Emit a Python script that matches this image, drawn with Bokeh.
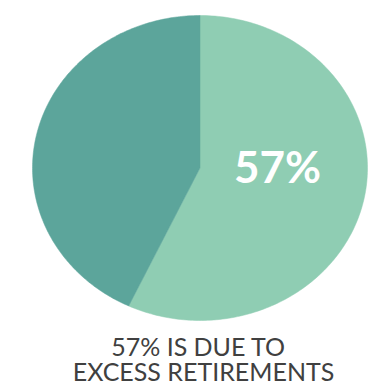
import numpy as np
from bokeh.plotting import figure
from bokeh.models import ColumnDataSource, Range1d
from bokeh.core.properties import value
from bokeh.embed import file_html
from bokeh.resources import INLINE

# ---- data ----
labels = ["Excess retirements", "Other"]
shares = [57, 43]
colors = ["#8FCDB3", "#5CA59B"]
big_label = ["57%"]
caption = ["57% IS DUE TO", "EXCESS RETIREMENTS"]

# ---- layout (picture pixels) ----
W, H = 381, 384
OX, OY = 0, 0              # where the figure lands in the picture
CX, CY = 199.5, 167.5      # pie centre in the picture
RX, RY = 167.5, 152.5      # pie radii (slightly squashed)

def dx(px):
    return (px - CX) / RX

def dy(py):
    return (CY - py) / RY

p = figure(width=W, height=H, output_backend="svg", toolbar_location=None,
           x_range=Range1d(dx(OX), dx(OX + W)), y_range=Range1d(dy(OY + H), dy(OY)),
           min_border=0, outline_line_color=None, background_fill_color="white")
p.axis.visible = False
p.grid.visible = False

# pie slices, clockwise from 12 o'clock
total = float(sum(shares))
ends = np.cumsum(shares) / total * 2 * np.pi
starts = np.concatenate([[0.0], ends[:-1]])
xs, ys = [], []
for a0, a1 in zip(starts, ends):
    t = np.linspace(a0, a1, 200)
    xs.append(np.concatenate([[0.0], np.sin(t), [0.0]]))
    ys.append(np.concatenate([[0.0], np.cos(t), [0.0]]))
src = ColumnDataSource(dict(xs=xs, ys=ys, color=colors, label=labels))
p.patches("xs", "ys", source=src, fill_color="color", line_color="color", line_width=0.5)

# big label inside the light slice
p.text(x=[dx(277)], y=[dy(165)], text=big_label, text_color="white",
       text_font=value("Lato"), text_font_style="bold", text_font_size="44px",
       text_align="center", text_baseline="alphabetic")

# caption
p.text(x=[dx(198), dx(203)], y=[dy(345), dy(370)], text=caption, text_color="#404040",
       text_font=value("Lato"), text_font_size="25px",
       text_align="center", text_baseline="alphabetic")

open("out.html", "w").write(file_html(p, INLINE))
